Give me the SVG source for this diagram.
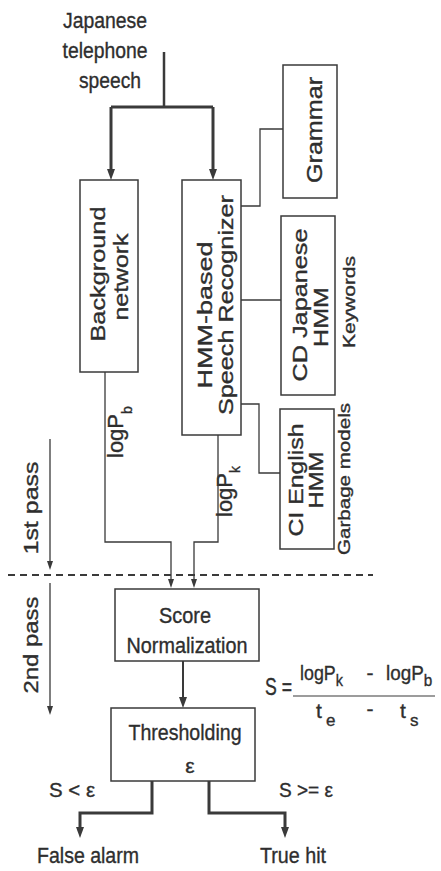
<svg xmlns="http://www.w3.org/2000/svg" width="441" height="871" viewBox="0 0 441 871">
<defs>
<style>
.box{fill:none;stroke:#3a3a3a;stroke-width:1.5}
.ln{fill:none;stroke:#3a3a3a;stroke-width:1.3}
.thk{fill:none;stroke:#3a3a3a;stroke-width:3}
.t{font-family:"Liberation Sans",Arial,sans-serif;fill:#2e2e2e;stroke:#2e2e2e;stroke-width:0.35;font-size:21px}
.m{text-anchor:middle}
.sm{font-size:17px}
</style>
<marker id="ahT" markerUnits="userSpaceOnUse" markerWidth="12" markerHeight="10" viewBox="0 -5 12 10" refX="0" refY="0" orient="auto"><path d="M0,-4 L11,0 L0,4 z" fill="#3a3a3a"/></marker>
<marker id="ahS" markerUnits="userSpaceOnUse" markerWidth="10" markerHeight="8" viewBox="0 -4 10 8" refX="0" refY="0" orient="auto"><path d="M0,-3 L9,0 L0,3 z" fill="#3a3a3a"/></marker>
</defs>
<rect width="441" height="871" fill="#ffffff"/>

<g id="input">
<text class="t m" style="font-size:22px" x="105" y="28" textLength="84" lengthAdjust="spacingAndGlyphs">Japanese</text>
<text class="t m" style="font-size:22px" x="105" y="58" textLength="85" lengthAdjust="spacingAndGlyphs">telephone</text>
<text class="t m" style="font-size:22px" x="110" y="88" textLength="62" lengthAdjust="spacingAndGlyphs">speech</text>
</g>

<g id="background">
<rect class="box" x="80" y="180" width="58" height="192"/>
<text class="t m" transform="translate(105,274) rotate(-90)" textLength="135" lengthAdjust="spacingAndGlyphs">Background</text>
<text class="t m" transform="translate(128,277) rotate(-90)" textLength="87" lengthAdjust="spacingAndGlyphs">network</text>
</g>

<g id="recognizer">
<rect class="box" x="182" y="180" width="59" height="255"/>
<text class="t m" transform="translate(212,315) rotate(-90)" textLength="147" lengthAdjust="spacingAndGlyphs">HMM-based</text>
<text class="t m" transform="translate(233,305) rotate(-90)" textLength="220" lengthAdjust="spacingAndGlyphs">Speech Recognizer</text>
</g>

<g id="grammar">
<rect class="box" x="283" y="65" width="54" height="133"/>
<text class="t m" style="font-size:22px" transform="translate(322,130) rotate(-90)" textLength="106" lengthAdjust="spacingAndGlyphs">Grammar</text>
</g>

<g id="cd-japanese">
<rect class="box" x="281" y="216" width="54" height="179"/>
<text class="t m" transform="translate(307,305) rotate(-90)" textLength="153" lengthAdjust="spacingAndGlyphs">CD Japanese</text>
<text class="t m" transform="translate(328,317) rotate(-90)" textLength="60" lengthAdjust="spacingAndGlyphs">HMM</text>
<text class="t m sm" transform="translate(355,302) rotate(-90)" textLength="92" lengthAdjust="spacingAndGlyphs">Keywords</text>
</g>

<g id="ci-english">
<rect class="box" x="280" y="409" width="54" height="140"/>
<text class="t m" transform="translate(303,480) rotate(-90)" textLength="113" lengthAdjust="spacingAndGlyphs">CI English</text>
<text class="t m" transform="translate(323,480) rotate(-90)" textLength="57" lengthAdjust="spacingAndGlyphs">HMM</text>
<text class="t m sm" transform="translate(350,479) rotate(-90)" textLength="152" lengthAdjust="spacingAndGlyphs">Garbage models</text>
</g>

<g id="passes">
<text class="t m" style="font-size:20px" transform="translate(38,508) rotate(-90)" textLength="93" lengthAdjust="spacingAndGlyphs">1st pass</text>
<text class="t m" style="font-size:20px" transform="translate(38,645) rotate(-90)" textLength="97" lengthAdjust="spacingAndGlyphs">2nd pass</text>
<path d="M8,575 H373" fill="none" stroke="#3a3a3a" stroke-width="2" stroke-dasharray="7 5"/>
</g>

<g id="score">
<rect class="box" x="115" y="589" width="144" height="72"/>
<text class="t m" style="font-size:22px" x="185" y="623" textLength="52" lengthAdjust="spacingAndGlyphs">Score</text>
<text class="t m" style="font-size:22px" x="187" y="653" textLength="121" lengthAdjust="spacingAndGlyphs">Normalization</text>
</g>

<g id="thresholding">
<rect class="box" x="111" y="708" width="144" height="73"/>
<text class="t m" style="font-size:22px" x="185" y="740" textLength="113" lengthAdjust="spacingAndGlyphs">Thresholding</text>
<text class="t m" x="190" y="773">ε</text>
</g>

<g id="formula">
<text class="t" style="font-size:23px" x="265" y="695" textLength="27" lengthAdjust="spacingAndGlyphs">S =</text>
<path d="M293,696 H435" fill="none" stroke="#3a3a3a" stroke-width="1.2"/>
<text class="t" transform="translate(300,680) scale(0.85,1)">logP<tspan class="sm" dy="6">k</tspan></text>
<text class="t m" x="370" y="680">-</text>
<text class="t" transform="translate(386,680) scale(0.9,1)">logP<tspan class="sm" dy="6">b</tspan></text>
<text class="t" x="316" y="718">t</text>
<text class="t sm" x="326" y="726">e</text>
<text class="t m" x="370" y="716">-</text>
<text class="t" x="400" y="718">t</text>
<text class="t sm" x="410" y="726">s</text>
</g>

<g id="outputs">
<text class="t" style="font-size:20px" x="49" y="797" textLength="46" lengthAdjust="spacingAndGlyphs">S &lt; ε</text>
<text class="t" style="font-size:20px" x="279" y="797" textLength="54" lengthAdjust="spacingAndGlyphs">S &gt;= ε</text>
<text class="t" style="font-size:22px" x="37" y="863" textLength="102" lengthAdjust="spacingAndGlyphs">False alarm</text>
<text class="t" style="font-size:22px" x="260" y="863" textLength="66" lengthAdjust="spacingAndGlyphs">True hit</text>
</g>

<g id="labels">
<text class="t" style="font-size:22px" transform="translate(123,458) rotate(-90)">logP<tspan style="font-size:14px" dy="9">b</tspan></text>
<text class="t" style="font-size:22px" transform="translate(232,517) rotate(-90)">logP<tspan style="font-size:14px" dy="8">k</tspan></text>
</g>

<g id="connectors">
<path class="thk" style="stroke-width:2.5" d="M164,52 V107"/>
<path class="thk" d="M111,107 H213"/>
<path class="thk" d="M111,107 V169" marker-end="url(#ahT)"/>
<path class="thk" d="M213,107 V169" marker-end="url(#ahT)"/>
<path class="ln" d="M241,206 H260 V129 H283"/>
<path class="ln" d="M241,300 H281"/>
<path class="ln" d="M241,404 H259 V473 H280"/>
<path class="ln" d="M105,372 V542 H171 V579" marker-end="url(#ahS)"/>
<path class="ln" d="M218,435 V542 H194 V579" marker-end="url(#ahS)"/>
<path class="ln" d="M50,439 V561" marker-end="url(#ahS)"/>
<path class="ln" d="M50,583 V706" marker-end="url(#ahS)"/>
<path class="thk" style="stroke-width:2" d="M183,661 V697" marker-end="url(#ahT)"/>
<path class="thk" d="M152,781 V813 H80 V827" marker-end="url(#ahT)"/>
<path class="thk" d="M209,781 V813 H285 V827" marker-end="url(#ahT)"/>
</g>
</svg>
